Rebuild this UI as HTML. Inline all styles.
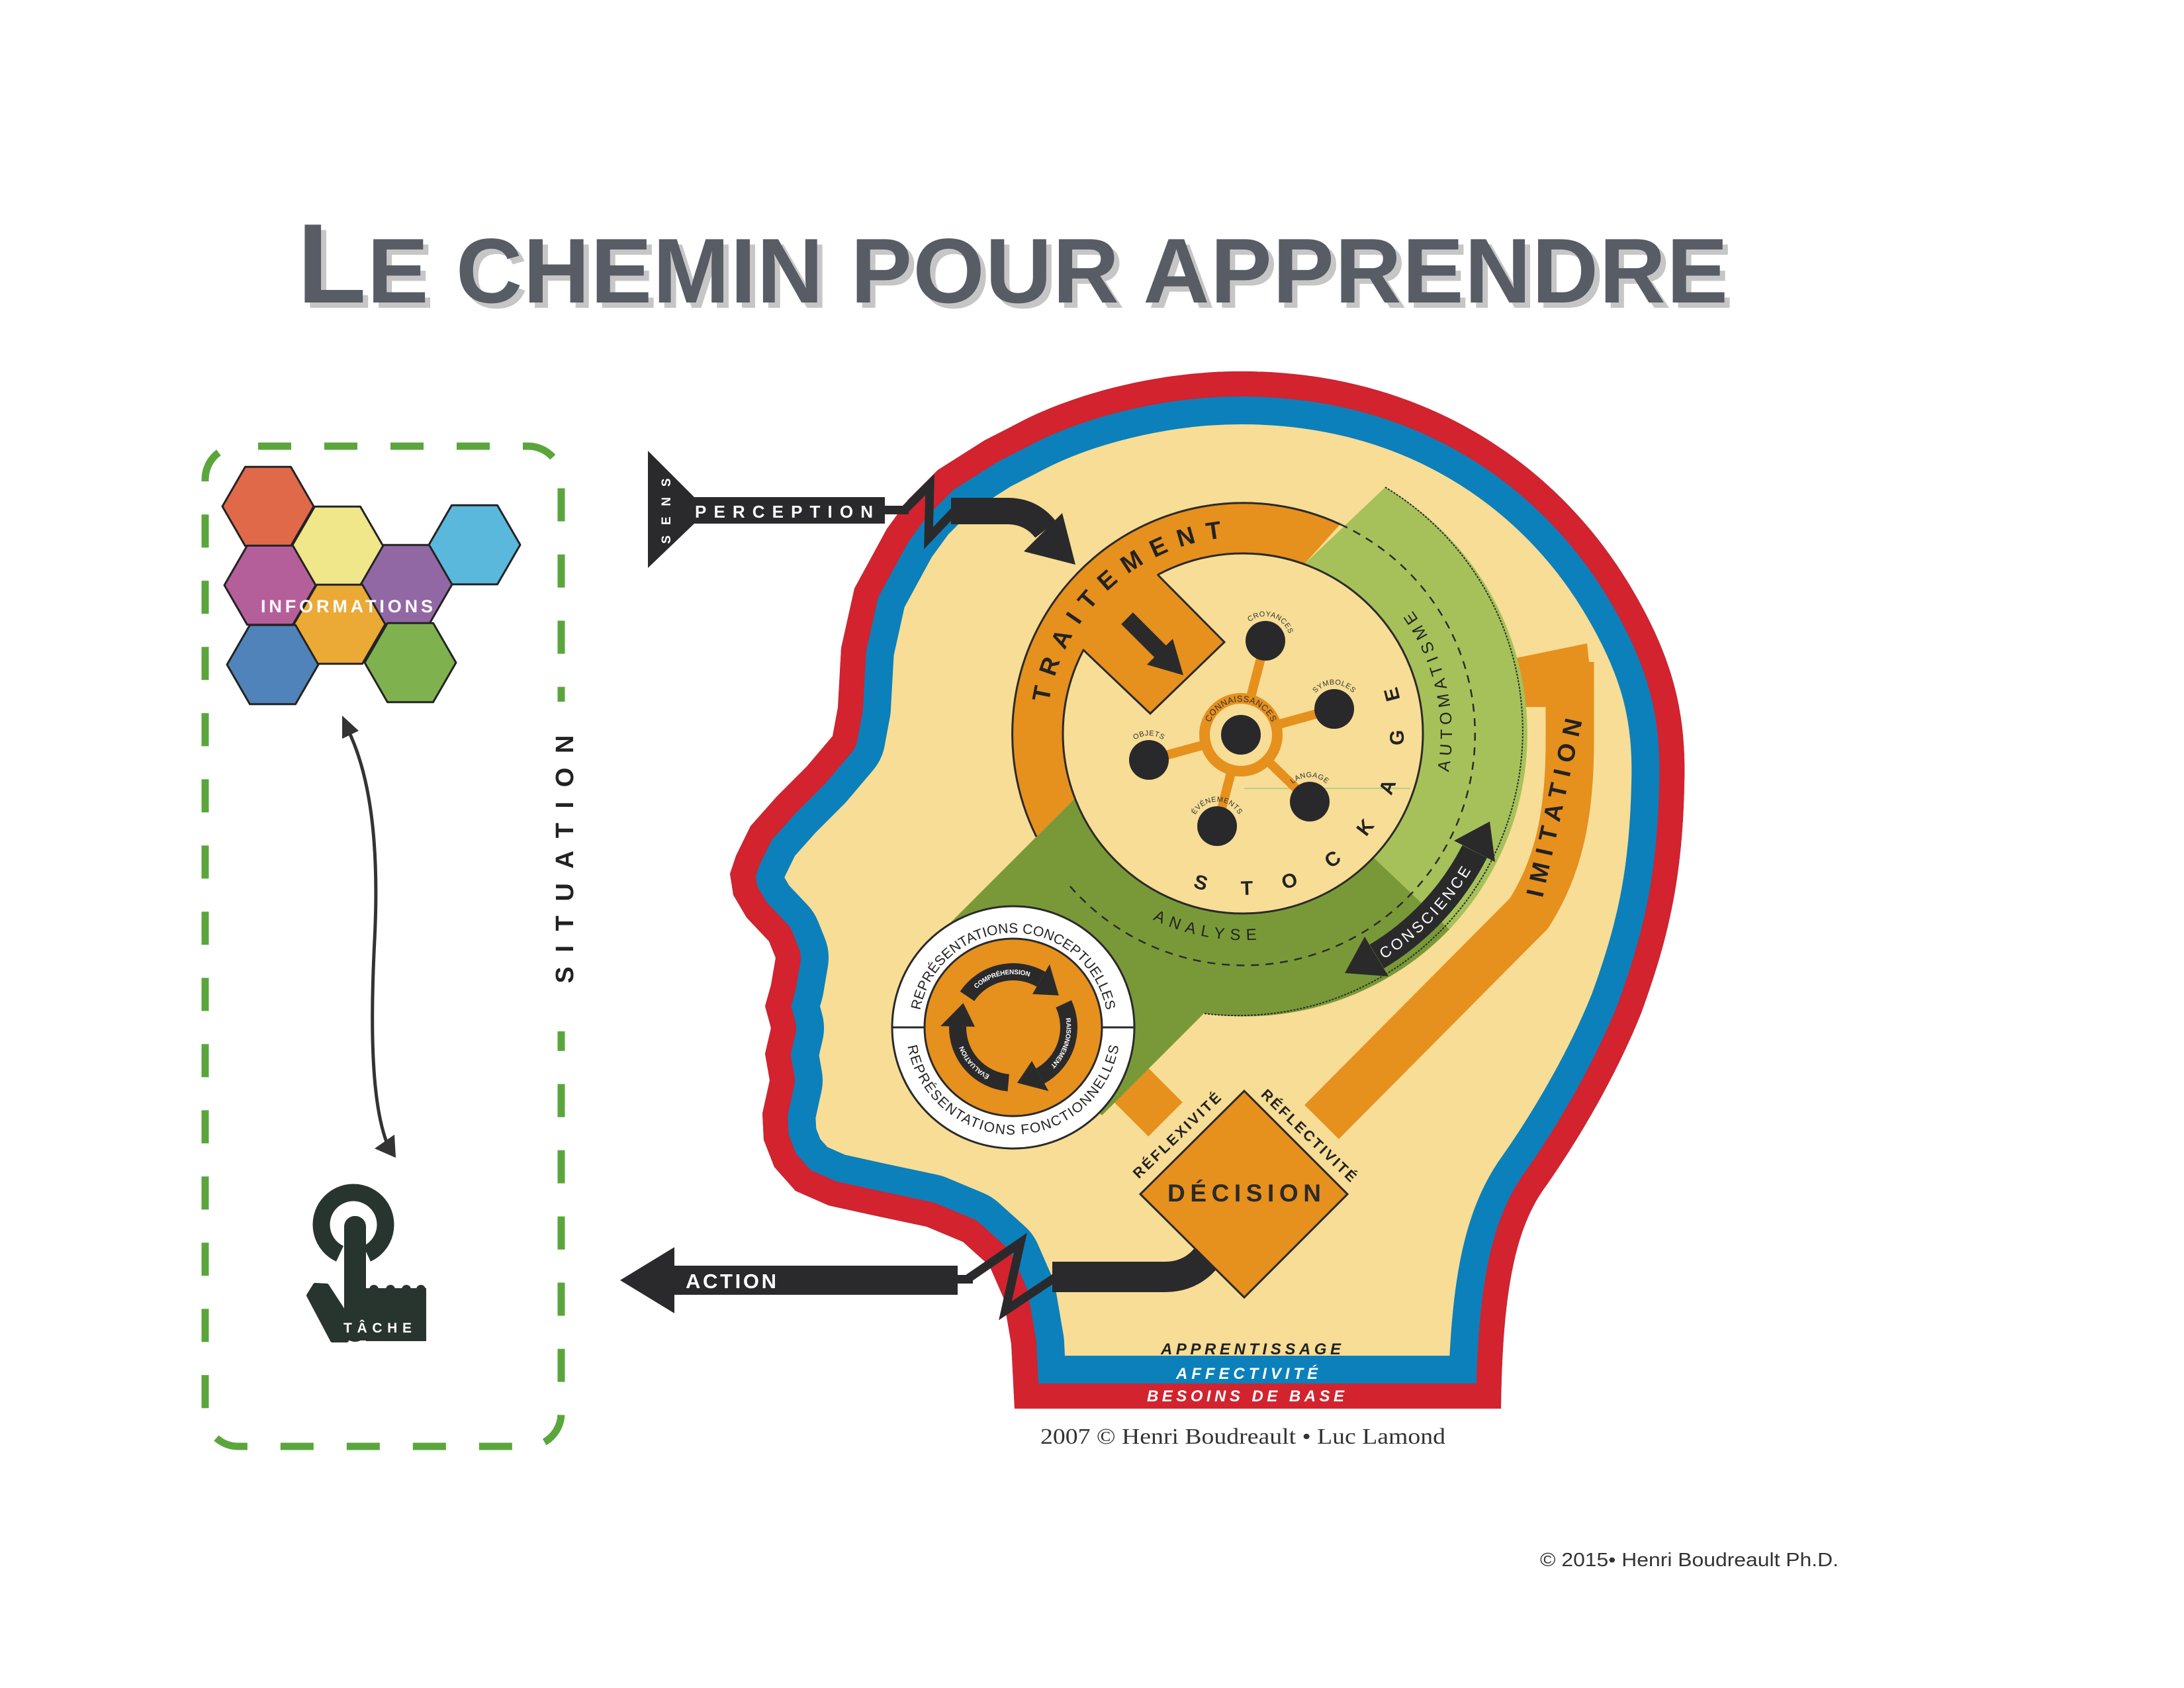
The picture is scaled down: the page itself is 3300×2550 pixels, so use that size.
<!DOCTYPE html>
<html>
<head>
<meta charset="utf-8">
<style>
html,body{margin:0;padding:0;background:#fff;}
svg{display:block;font-family:"Liberation Sans",Arial,sans-serif;}
</style>
</head>
<body>
<svg xmlns="http://www.w3.org/2000/svg" width="3300" height="2550" viewBox="0 0 3300 2550">
<defs>
  <clipPath id="hc">
    <path d="M 1533 2128 L 1528 2030 L 1516 1960 L 1495 1912 L 1455 1876 L 1400 1853 L 1320 1836 L 1252 1821 L 1202 1799 L 1170 1763 L 1154 1722 L 1152 1682 L 1163 1632 L 1156 1592 L 1165 1553 L 1156 1520 L 1165 1488 L 1172 1447 L 1162 1422 L 1128 1386 L 1108 1352 L 1103 1320 L 1112 1293 L 1134 1248 L 1174 1203 L 1219 1158 L 1258 1112 L 1266 1069 L 1271 979 L 1291 889 L 1340 799 L 1372 755 L 1417 710 L 1488 665 L 1533 642 C 1620 595 1750 561 1875 561 C 2150 561 2350 700 2460 880 C 2530 995 2548 1080 2545 1185 C 2542 1330 2520 1420 2480 1530 C 2440 1630 2380 1730 2330 1800 C 2290 1860 2270 1950 2268 2128 Z"/>
  </clipPath>
  <path id="headp" d="M 1533 2128 L 1528 2030 L 1516 1960 L 1495 1912 L 1455 1876 L 1400 1853 L 1320 1836 L 1252 1821 L 1202 1799 L 1170 1763 L 1154 1722 L 1152 1682 L 1163 1632 L 1156 1592 L 1165 1553 L 1156 1520 L 1165 1488 L 1172 1447 L 1162 1422 L 1128 1386 L 1108 1352 L 1103 1320 L 1112 1293 L 1134 1248 L 1174 1203 L 1219 1158 L 1258 1112 L 1266 1069 L 1271 979 L 1291 889 L 1340 799 L 1372 755 L 1417 710 L 1488 665 L 1533 642 C 1620 595 1750 561 1875 561 C 2150 561 2350 700 2460 880 C 2530 995 2548 1080 2545 1185 C 2542 1330 2520 1420 2480 1530 C 2440 1630 2380 1730 2330 1800 C 2290 1860 2270 1950 2268 2128 Z"/>
  <path id="tpTrait" d="M 1662.6 1312.5 A 297 297 0 0 1 2093.4 903.5"/>
  <path id="tpAuto" d="M 1948.1 1420.2 A 320 320 0 0 0 1807.9 795.8"/>
  <path id="tpAnal" d="M 1568.8 1047.9 A 315 315 0 0 0 2187.2 1168.1"/>
  <path id="tpCons" d="M 1596.2 1394.7 A 402 402 0 0 0 2159.8 821.3"/>
  <path id="tpRepTop" d="M 1388 1552 A 143 143 0 0 1 1674 1552"/>
  <path id="tpRepBot" d="M 1369 1552 A 162 162 0 0 0 1693 1552"/>
  <path id="tpA1" d="M 1461.4 1505 A 84 84 0 0 1 1573 1479.3"/>
  <path id="tpA2" d="M 1607.1 1516.5 A 84 84 0 0 1 1571.7 1625.5"/>
  <path id="tpA3" d="M 1523.7 1635.7 A 84 84 0 0 1 1447 1550.5"/>
  <path id="tpS1" d="M 1876.6 957.2 A 37 37 0 0 1 1947.4 978.8"/>
  <path id="tpS2" d="M 1979 1071 A 37 37 0 0 1 2053 1071"/>
  <path id="tpS3" d="M 1942 1211 A 37 37 0 0 1 2016 1211"/>
  <path id="tpS4" d="M 1802 1248 A 37 37 0 0 1 1876 1248"/>
  <path id="tpS5" d="M 1699 1148 A 37 37 0 0 1 1773 1148"/>
  <path id="tpHub" d="M 1825 1110 A 50 50 0 0 1 1925 1110"/>
</defs>

<rect x="0" y="0" width="3300" height="2550" fill="#ffffff"/>

<!-- TITLE -->
<g font-weight="bold">
  <text x="457" y="465" fill="#c6c6c6" textLength="2162" lengthAdjust="spacing"><tspan font-size="171">L</tspan><tspan font-size="139">E CHEMIN POUR APPRENDRE</tspan></text>
  <text x="449" y="457" fill="#575c65" textLength="2162" lengthAdjust="spacing"><tspan font-size="171">L</tspan><tspan font-size="139">E CHEMIN POUR APPRENDRE</tspan></text>
</g>

<!-- SITUATION dashed box -->
<rect x="310" y="674" width="538" height="1511" rx="50" ry="50" fill="none" stroke="#5aa63c" stroke-width="11" stroke-dasharray="50 50" stroke-dashoffset="70"/>
<rect x="826" y="1060" width="44" height="498" fill="#ffffff"/>
<text transform="translate(866,1298) rotate(-90)" text-anchor="middle" font-size="38" font-weight="bold" fill="#222" textLength="375" lengthAdjust="spacing">SITUATION</text>

<!-- Hexagons -->
<g stroke="#232323" stroke-width="3" stroke-linejoin="round">
  <polygon fill="#e0694a" points="336,765 370.5,705.2 439.5,705.2 474,765 439.5,824.8 370.5,824.8"/>
  <polygon fill="#f0e68a" points="441,825 475.5,765.2 544.5,765.2 579,825 544.5,884.8 475.5,884.8"/>
  <polygon fill="#5ab8dc" points="648,823 682.5,763.2 751.5,763.2 786,823 751.5,882.8 682.5,882.8"/>
  <polygon fill="#b55f9a" points="339,884 373.5,824.2 442.5,824.2 477,884 442.5,943.8 373.5,943.8"/>
  <polygon fill="#9168a3" points="545,883 579.5,823.2 648.5,823.2 683,883 648.5,942.8 579.5,942.8"/>
  <polygon fill="#eba935" points="444,943 478.5,883.2 547.5,883.2 582,943 547.5,1002.8 478.5,1002.8"/>
  <polygon fill="#5083b9" points="343,1004 377.5,944.2 446.5,944.2 481,1004 446.5,1063.8 377.5,1063.8"/>
  <polygon fill="#7fb24f" points="551,1001 585.5,941.2 654.5,941.2 689,1001 654.5,1060.8 585.5,1060.8"/>
</g>
<text x="394" y="925" font-size="27" font-weight="bold" fill="#ffffff" textLength="260" lengthAdjust="spacing">INFORMATIONS</text>

<!-- double arrow -->
<path d="M 527 1105 C 565 1185 572 1300 566 1420 C 560 1540 560 1660 584 1725" fill="none" stroke="#333" stroke-width="5"/>
<polygon points="517,1081 542,1104 517,1116" fill="#333"/>
<polygon points="598,1749 596,1714 566,1735" fill="#333"/>

<!-- TACHE icon -->
<g fill="#28352f">
  <path d="M 513.5 1894 A 48.5 48.5 0 1 1 554.5 1894" fill="none" stroke="#28352f" stroke-width="26"/>
  <rect x="520" y="1837" width="33" height="190" rx="16" ry="16"/>
  <rect x="520" y="1980" width="124" height="45"/>
  <rect x="553" y="1946" width="91" height="80"/>
  <circle cx="565" cy="1948" r="7"/>
  <circle cx="590" cy="1948" r="7"/>
  <circle cx="614" cy="1948" r="7"/>
  <circle cx="636" cy="1948" r="7"/>
  <polygon points="466,1957 476,1941 494,1942 524,1988 524,2025 502,2025" stroke="#28352f" stroke-width="6" stroke-linejoin="round"/>
</g>
<text x="519" y="2013" font-size="21" font-weight="bold" fill="#ffffff" textLength="103" lengthAdjust="spacing">TÂCHE</text>

<!-- HEAD -->
<g clip-path="url(#hc)">
  <use href="#headp" fill="#f7dd95" stroke="#0c80bb" stroke-width="160" stroke-linejoin="round"/>
  <use href="#headp" fill="none" stroke="#d2232e" stroke-width="76" stroke-linejoin="round"/>
</g>

<!-- IMITATION band -->
<path d="M 2372 1000 L 2372 1120 C 2372 1230 2355 1310 2310 1380 L 1997 1695" fill="none" stroke="#e6901e" stroke-width="73"/>
<polygon points="2286,995 2398,972 2408,1068 2300,1068" fill="#e6901e"/>

<!-- Reflexivite bar -->
<line x1="1650" y1="1580" x2="1761" y2="1691" stroke="#e6901e" stroke-width="73"/>

<!-- light green -->
<path d="M 2093 736 A 430 430 0 0 1 2190 1404 L 2075 1295 A 272 272 0 0 0 1971 852 Z" fill="#a6c15a"/>
<!-- dark green -->
<path d="M 2075 1295 L 2190 1404 A 430 430 0 0 1 1819 1531 L 1665 1685 L 1405 1425 L 1624 1206 A 272 272 0 0 0 2075 1295 Z" fill="#799938"/>
<!-- orange ring -->
<path d="M 1624 1206 L 1566 1264 A 349 349 0 0 1 2025 792 L 1971 852 A 272 272 0 0 0 1624 1206 Z" fill="#e6901e"/>
<path d="M 1566 1264 A 349 349 0 0 1 2025 792" fill="none" stroke="#2a2a2a" stroke-width="3"/>
<path d="M 2025 792 A 349 349 0 1 1 1611 1332" fill="none" stroke="#2a2a2a" stroke-width="2.5" stroke-dasharray="12 10"/>
<path d="M 2093 736 A 430 430 0 0 1 1819 1531" fill="none" stroke="#2a2a2a" stroke-width="2" stroke-dasharray="3 2"/>

<!-- inner circle -->
<circle cx="1878" cy="1108" r="272" fill="#f7dd95" stroke="#2a2a2a" stroke-width="3"/>
<line x1="1880" y1="1191" x2="2131" y2="1191" stroke="#b9cd84" stroke-width="2"/>
<!-- tab -->
<polygon points="1700,820 1749,868 1850,970 1738,1078 1636,981 1590,930" fill="#e6901e"/>
<polyline points="1749,868 1850,970 1738,1078 1636,981" fill="none" stroke="#2a2a2a" stroke-width="3"/>
<line x1="1703" y1="934" x2="1755" y2="986" stroke="#2a2a2a" stroke-width="25"/>
<polygon points="1733,1004 1772,965 1788,1020" fill="#2a2a2a"/>

<!-- hub & satellites -->
<g stroke="#e6901e" stroke-width="14">
  <line x1="1875" y1="1110" x2="1912" y2="968"/>
  <line x1="1875" y1="1110" x2="2016" y2="1071"/>
  <line x1="1875" y1="1110" x2="1979" y2="1211"/>
  <line x1="1875" y1="1110" x2="1839" y2="1248"/>
  <line x1="1875" y1="1110" x2="1736" y2="1148"/>
</g>
<circle cx="1875" cy="1110" r="47" fill="#f7dd95"/>
<circle cx="1875" cy="1110" r="55" fill="none" stroke="#e6901e" stroke-width="16"/>
<g fill="#29292b">
  <circle cx="1875" cy="1110" r="30"/>
  <circle cx="1912" cy="968" r="30"/>
  <circle cx="2016" cy="1071" r="30"/>
  <circle cx="1979" cy="1211" r="30"/>
  <circle cx="1839" cy="1248" r="30"/>
  <circle cx="1736" cy="1148" r="30"/>
</g>
<g font-size="11" fill="#333" text-anchor="middle" letter-spacing="0.5">
  <text><textPath href="#tpS1" startOffset="50%">CROYANCES</textPath></text>
  <text><textPath href="#tpS2" startOffset="50%">SYMBOLES</textPath></text>
  <text><textPath href="#tpS3" startOffset="50%">LANGAGE</textPath></text>
  <text><textPath href="#tpS4" startOffset="50%">ÉVÉNEMENTS</textPath></text>
  <text><textPath href="#tpS5" startOffset="50%">OBJETS</textPath></text>
  <text font-size="13"><textPath href="#tpHub" startOffset="50%">CONNAISSANCES</textPath></text>
</g>

<!-- STOCKAGE -->
<g font-size="30" font-weight="bold" fill="#222" text-anchor="middle">
  <text x="1814.7" y="1332.5" dy="11" transform="rotate(15.5 1814.7 1332.5)">S</text>
  <text x="1883.9" y="1340.9" dy="11" transform="rotate(-1.7 1883.9 1340.9)">T</text>
  <text x="1948.2" y="1329.8" dy="11" transform="rotate(-17.8 1948.2 1329.8)">O</text>
  <text x="2013" y="1297.2" dy="11" transform="rotate(-35.7 2013 1297.2)">C</text>
  <text x="2062.1" y="1249.5" dy="11" transform="rotate(-52.6 2062.1 1249.5)">K</text>
  <text x="2095.7" y="1188.5" dy="11" transform="rotate(-69.8 2095.7 1188.5)">A</text>
  <text x="2109.9" y="1114.1" dy="11" transform="rotate(-88.5 2109.9 1114.1)">G</text>
  <text x="2102.5" y="1049.3" dy="11" transform="rotate(-104.6 2102.5 1049.3)">E</text>
</g>

<!-- ring texts -->
<text font-size="37" font-weight="bold" fill="#222" text-anchor="middle"><textPath href="#tpTrait" startOffset="50%" textLength="388" lengthAdjust="spacing">TRAITEMENT</textPath></text>
<text font-size="25" fill="#222" text-anchor="middle"><textPath href="#tpAuto" startOffset="50%" textLength="257" lengthAdjust="spacing">AUTOMATISME</textPath></text>
<text font-size="24" fill="#222" text-anchor="middle"><textPath href="#tpAnal" startOffset="50%" textLength="162" lengthAdjust="spacing">ANALYSE</textPath></text>

<!-- CONSCIENCE arrow -->
<path d="M 2228.2 1286.4 A 393 393 0 0 1 2080.4 1444.9" fill="none" stroke="#2a2a2a" stroke-width="42"/>
<polygon points="2032,1470 2098,1475 2062,1415" fill="#2a2a2a"/>
<polygon points="2251,1241 2259,1302 2197,1270" fill="#2a2a2a"/>
<text font-size="23" fill="#ffffff" text-anchor="middle"><textPath href="#tpCons" startOffset="50%" textLength="190" lengthAdjust="spacing">CONSCIENCE</textPath></text>

<!-- IMITATION text -->
<text transform="translate(2348,1220) rotate(-77.4)" text-anchor="middle" dy="13" font-size="37" font-weight="bold" fill="#222" textLength="275" lengthAdjust="spacing">IMITATION</text>

<!-- Representations circle -->
<circle cx="1531" cy="1552" r="183" fill="#ffffff" stroke="#2a2a2a" stroke-width="3"/>
<line x1="1348" y1="1552" x2="1398" y2="1552" stroke="#2a2a2a" stroke-width="3"/>
<line x1="1664" y1="1552" x2="1714" y2="1552" stroke="#2a2a2a" stroke-width="3"/>
<circle cx="1531" cy="1552" r="134" fill="#e6901e" stroke="#2a2a2a" stroke-width="3"/>
<g fill="none" stroke="#2a2a2a" stroke-width="26">
  <use href="#tpA1"/>
  <use href="#tpA2"/>
  <use href="#tpA3"/>
</g>
<g fill="#2a2a2a">
  <polygon points="1560,1501.8 1586,1456.7 1599.8,1503.8"/>
  <polygon points="1559.1,1602.8 1584.4,1648.2 1536.9,1635.8"/>
  <polygon points="1473,1551 1421,1550.1 1455.5,1515.2"/>
</g>
<g font-size="10" font-weight="bold" fill="#ffffff" text-anchor="middle">
  <text dy="3.5"><textPath href="#tpA1" startOffset="50%">COMPRÉHENSION</textPath></text>
  <text dy="3.5"><textPath href="#tpA2" startOffset="50%">RAISONNEMENT</textPath></text>
  <text dy="3.5"><textPath href="#tpA3" startOffset="50%">ÉVALUATION</textPath></text>
</g>
<text font-size="21" fill="#222" text-anchor="middle"><textPath href="#tpRepTop" startOffset="50%" textLength="397" lengthAdjust="spacing">REPRÉSENTATIONS CONCEPTUELLES</textPath></text>
<text font-size="21" fill="#222" text-anchor="middle"><textPath href="#tpRepBot" startOffset="50%" textLength="452" lengthAdjust="spacing">REPRÉSENTATIONS FONCTIONNELLES</textPath></text>

<!-- SENS / PERCEPTION -->
<polygon points="979,681 1049,751 1049,791 979,858" fill="#2a2a2c"/>
<rect x="1047" y="751" width="290" height="40" fill="#2a2a2c"/>
<rect x="1335" y="764" width="38" height="13" fill="#2a2a2c"/>
<polyline points="1366,771 1405,732 1403,813 1442,772" fill="none" stroke="#2a2a2c" stroke-width="13" stroke-linejoin="miter"/>
<path d="M 1437 772 L 1522 772 Q 1558 772 1580 800" fill="none" stroke="#2a2a2c" stroke-width="40"/>
<polygon points="1547,833 1605,775 1625,853" fill="#2a2a2c"/>
<text transform="translate(1013,772) rotate(-90)" text-anchor="middle" font-size="19" font-weight="bold" fill="#ffffff" textLength="99" lengthAdjust="spacing">SENS</text>
<text x="1050" y="782" font-size="26" font-weight="bold" fill="#ffffff" textLength="269" lengthAdjust="spacing">PERCEPTION</text>

<!-- ACTION -->
<polygon points="937,1934 1019,1884 1019,1984" fill="#2a2a2c"/>
<rect x="1017" y="1912" width="430" height="44" fill="#2a2a2c"/>
<rect x="1440" y="1926" width="30" height="13" fill="#2a2a2c"/>
<polyline points="1462,1932 1542,1877 1519,1980 1594,1930" fill="none" stroke="#2a2a2c" stroke-width="13" stroke-linejoin="miter"/>
<path d="M 1590 1929 L 1760 1929 Q 1805 1929 1830 1890" fill="none" stroke="#2a2a2c" stroke-width="46"/>
<text x="1036" y="1946" font-size="31" font-weight="bold" fill="#ffffff" textLength="137" lengthAdjust="spacing">ACTION</text>

<!-- DECISION -->
<polygon points="1880,1648 2036,1804 1880,1960 1723,1804" fill="#e6901e" stroke="#2a2a2a" stroke-width="3" stroke-linejoin="miter"/>
<text x="1880" y="1815" text-anchor="middle" font-size="37" font-weight="bold" fill="#2a2a2a" textLength="232" lengthAdjust="spacing">DÉCISION</text>
<text transform="translate(1778,1715) rotate(-44)" text-anchor="middle" dy="8" font-size="22" font-weight="bold" fill="#222" textLength="175" lengthAdjust="spacing">RÉFLEXIVITÉ</text>
<text transform="translate(1978,1715) rotate(44)" text-anchor="middle" dy="8" font-size="22" font-weight="bold" fill="#222" textLength="190" lengthAdjust="spacing">RÉFLECTIVITÉ</text>

<!-- bottom labels -->
<g font-size="24" font-weight="bold" font-style="italic">
  <text x="1754" y="2046" fill="#222" textLength="272" lengthAdjust="spacing">APPRENTISSAGE</text>
  <text x="1777" y="2083" fill="#ffffff" textLength="214" lengthAdjust="spacing">AFFECTIVITÉ</text>
  <text x="1733" y="2117" fill="#ffffff" textLength="298" lengthAdjust="spacing">BESOINS DE BASE</text>
</g>

<!-- copyrights -->
<text x="1572" y="2181" style="font-family:'Liberation Serif',serif" font-size="34" fill="#333" textLength="612" lengthAdjust="spacingAndGlyphs">2007 © Henri Boudreault • Luc Lamond</text>
<text x="2327" y="2366" font-size="29" fill="#333" textLength="451" lengthAdjust="spacingAndGlyphs">© 2015• Henri Boudreault Ph.D.</text>
</svg>
</body>
</html>
